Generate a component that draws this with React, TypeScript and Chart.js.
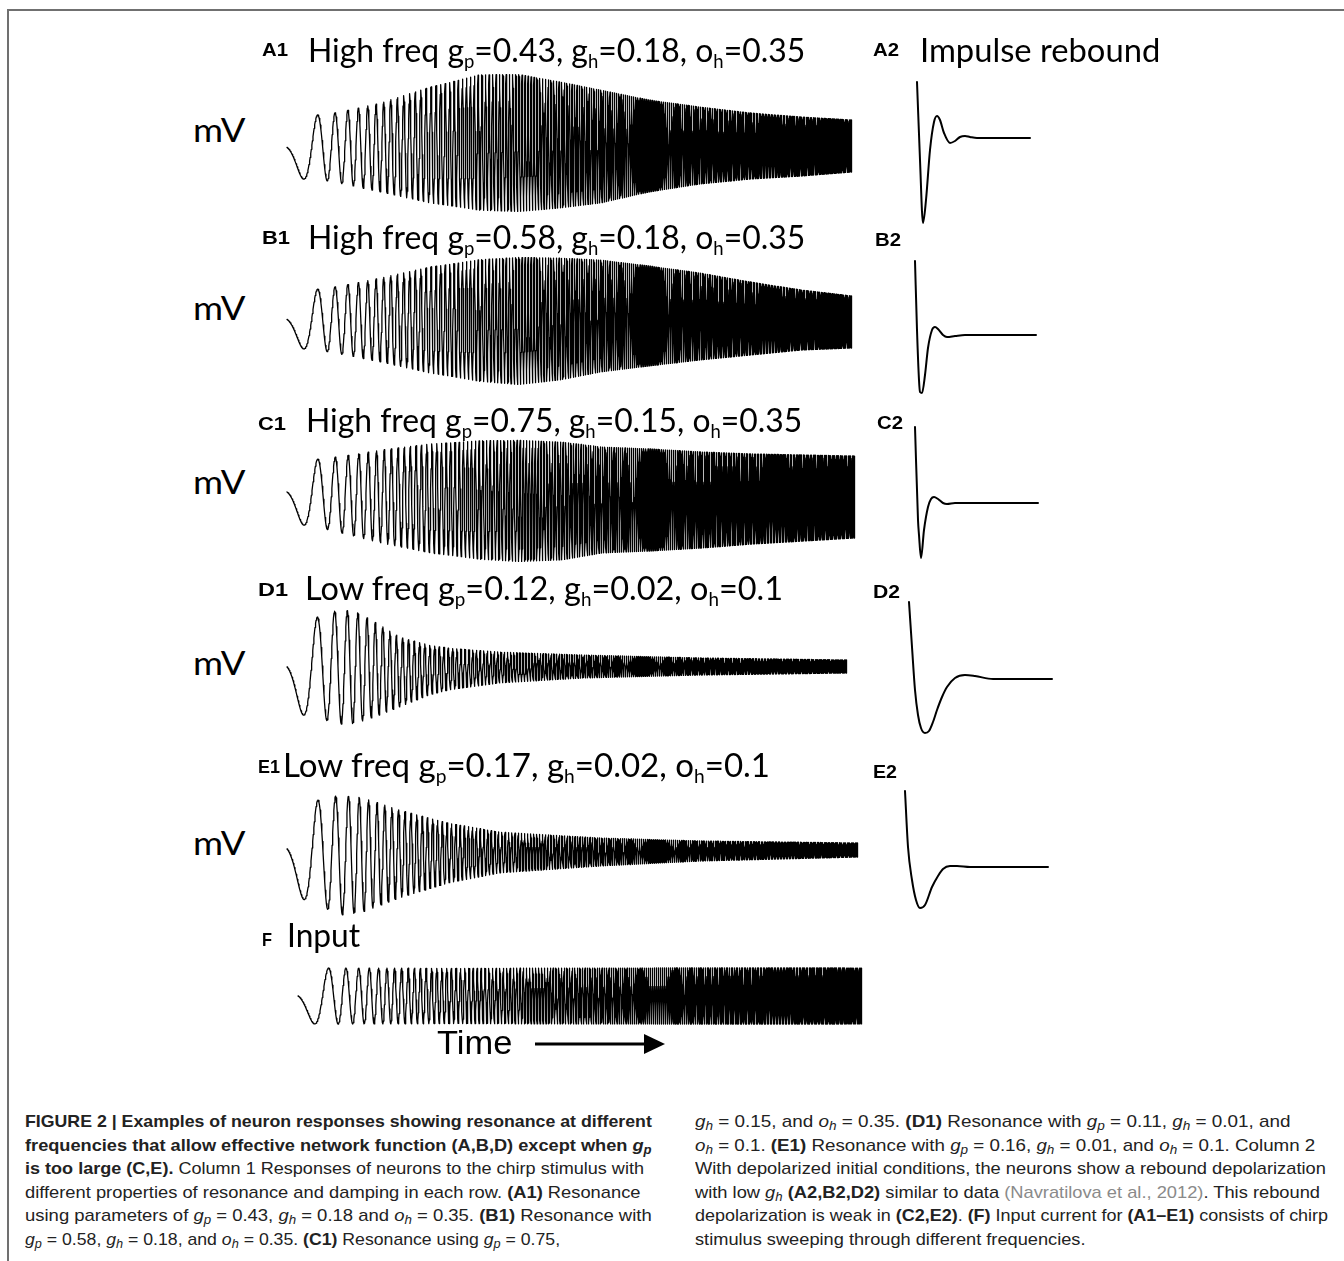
import React, { useEffect, useLayoutEffect, useRef } from 'react';
import { Chart, registerables } from 'chart.js';
Chart.register(...registerables);

// ---------- chirp stimulus (F) ----------
const CHIRP_DURATION_S = 20;
const CHIRP_F0_HZ = 0.1;
const CHIRP_F1_HZ = 22;

// ---------- column 1 envelopes (mV, relative to resting level) ----------
const ENV_T_HIGH = [0, 1.5, 3.3, 5.1, 6.8, 8.2, 9.7, 11.1, 12.8, 14.6, 16.4, 18.2, 20];
const A1_UPPER = [29, 32, 43, 60, 72, 72, 64, 56, 46, 39, 33, 29, 26];
const A1_LOWER = [-32, -35, -46, -58, -65, -66, -62, -57, -46, -38, -33, -30, -26];
const B1_UPPER = [28, 32, 42, 54, 61, 63, 62, 60, 54, 47, 38, 30, 24];
const B1_LOWER = [-27, -32, -42, -54, -62, -65, -60, -52, -46, -40, -35, -30, -28];
const C1_UPPER = [35, 39, 47, 54, 57, 57, 55, 50, 48, 45, 43, 42, 41];
const C1_LOWER = [-25, -33, -46, -57, -63, -65, -63, -56, -54, -51, -47, -44, -41];
const D1_T = [0, 1.11, 1.71, 2.14, 2.5, 3.32, 4.04, 5.11, 5.82, 7.61, 10.57, 14.75, 20];
const D1_UPPER = [45, 50, 56, 57, 55, 42, 30, 22, 19, 15, 12, 9, 7];
const D1_LOWER = [-45, -51, -56, -58, -56, -48, -40, -28, -23, -16, -11, -8, -6];
const E1_T = [0, 1.09, 1.86, 2.56, 3.96, 5.71, 7.46, 10.96, 14.47, 20];
const E1_UPPER = [45, 50, 55, 53, 40, 27, 18, 12, 9, 7];
const E1_LOWER = [-43, -55, -65, -63, -48, -33, -23, -16, -11, -7];
const F_T = [0, 20];
const F_UPPER = [28, 28];
const F_LOWER = [-28, -28];

// ---------- column 2 impulse responses (ms, mV) ----------
const A2_T = [0, 3, 6, 9, 13, 17, 20, 23, 27, 33, 38, 43, 48, 53, 60, 113];
const A2_V = [56, -22, -85, -62, -12, 16, 22, 18, 5, -5, -3, 1, 2, 1, 0, 0];
const B2_T = [0, 2, 4, 5, 7, 10, 13, 17, 20, 23, 28, 32, 40, 50, 121];
const B2_V = [74, 5, -45, -57, -58, -40, -13, 5, 8, 6, 0, -2, -1, 0, 0];
const C2_T = [0, 3, 4, 6, 9, 13, 16, 19, 23, 28, 32, 40, 123];
const C2_V = [76, -17, -32, -55, -27, -4, 4, 6, 4, 0, -1, 0, 0];
const D2_T = [0, 3, 6, 9, 12, 16, 20, 24, 28, 33, 38, 46, 56, 66, 84, 143];
const D2_V = [77, 32, -11, -36, -49, -54, -52, -43, -31, -18, -8, 1, 4, 3, 0, 0];
const E2_T = [0, 3, 7, 11, 15, 20, 27, 33, 38, 45, 52, 65, 82, 143];
const E2_V = [76, 20, -13, -33, -41, -38, -20, -9, -2, 1, 1, 0, 0, 0];

function chirpPhase(t: number) {
  return CHIRP_F0_HZ * t + ((CHIRP_F1_HZ - CHIRP_F0_HZ) * t * t) / (2 * CHIRP_DURATION_S);
}
function chirpFreq(t: number) {
  return CHIRP_F0_HZ + ((CHIRP_F1_HZ - CHIRP_F0_HZ) * t) / CHIRP_DURATION_S;
}
function lerp(ts: number[], vs: number[], t: number) {
  if (t <= ts[0]) return vs[0];
  for (let i = 1; i < ts.length; i++) {
    if (t <= ts[i]) {
      const f = (t - ts[i - 1]) / (ts[i] - ts[i - 1]);
      return vs[i - 1] + f * (vs[i] - vs[i - 1]);
    }
  }
  return vs[vs.length - 1];
}
function chirpTrace(ts: number[], up: number[], lo: number[]) {
  const pts: { x: number; y: number }[] = [];
  let t = 0;
  while (t <= CHIRP_DURATION_S) {
    const u = lerp(ts, up, t);
    const l = lerp(ts, lo, t);
    const mid = (u + l) / 2;
    const half = (u - l) / 2;
    pts.push({ x: t, y: mid - half * Math.sin(2 * Math.PI * chirpPhase(t)) });
    t += Math.min(0.02, 1 / (chirpFreq(t) * 16));
  }
  return pts;
}

type LCProps = {
  left: number; top: number; width: number; height: number;
  xMin: number; xMax: number; yMin: number; yMax: number;
  points: { x: number; y: number }[]; lineWidth: number; smooth?: boolean;
};

function LineChart(p: LCProps) {
  const ref = useRef<HTMLCanvasElement>(null);
  useEffect(() => {
    const chart = new Chart(ref.current!, {
      type: 'line',
      data: {
        datasets: [
          {
            data: p.points as any,
            borderColor: '#000',
            borderWidth: p.lineWidth,
            pointRadius: 0,
            fill: false,
            tension: 0,
            cubicInterpolationMode: p.smooth ? 'monotone' : 'default',
            clip: false as any,
            borderJoinStyle: 'round',
            borderCapStyle: 'round',
          },
        ],
      },
      options: {
        animation: false,
        responsive: false,
        devicePixelRatio: 1,
        parsing: false,
        normalized: true,
        events: [],
        layout: { padding: 0 },
        plugins: { legend: { display: false }, tooltip: { enabled: false } },
        scales: {
          x: { type: 'linear', display: false, min: p.xMin, max: p.xMax },
          y: { type: 'linear', display: false, min: p.yMin, max: p.yMax },
        },
      },
    });
    return () => chart.destroy();
  }, []);
  return (
    <canvas
      ref={ref}
      width={p.width}
      height={p.height}
      style={{ position: 'absolute', left: p.left, top: p.top, width: p.width, height: p.height }}
    />
  );
}

function ChirpPanel({ x0, x1, cy, ts, up, lo }: any) {
  const pad = 6;
  const span = x1 - x0;
  const dx = (pad / span) * CHIRP_DURATION_S;
  return (
    <LineChart
      left={x0 - pad}
      top={cy - 100}
      width={span + 2 * pad}
      height={200}
      xMin={-dx}
      xMax={CHIRP_DURATION_S + dx}
      yMin={-100}
      yMax={100}
      points={chirpTrace(ts, up, lo)}
      lineWidth={1.3}
    />
  );
}

function ImpulsePanel({ ox, by, ts, vs }: any) {
  return (
    <LineChart
      left={ox - 10}
      top={by - 100}
      width={160}
      height={200}
      xMin={-10}
      xMax={150}
      yMin={-100}
      yMax={100}
      points={ts.map((t: number, i: number) => ({ x: t, y: vs[i] }))}
      lineWidth={2}
      smooth
    />
  );
}

function Fit({ x, cy, w, size, family, weight, color, children, italic }: any) {
  const ref = useRef<HTMLDivElement>(null);
  useLayoutEffect(() => {
    const el = ref.current;
    if (!el) return;
    const fit = () => {
      el.style.transform = 'none';
      const nat = el.scrollWidth;
      if (nat > 0) el.style.transform = `scaleX(${w / nat})`;
    };
    fit();
    const f: any = (document as any).fonts;
    if (f && f.ready) f.ready.then(fit);
  }, [w]);
  return (
    <div
      ref={ref}
      style={{
        position: 'absolute',
        left: x,
        top: cy - size * 0.52,
        whiteSpace: 'nowrap',
        transformOrigin: '0 0',
        fontSize: size,
        lineHeight: `${size}px`,
        fontFamily: family,
        fontWeight: weight || 'normal',
        fontStyle: italic ? 'italic' : 'normal',
        color: color || '#000',
        zIndex: 2,
      }}
    >
      {children}
    </div>
  );
}

const TITLE_FONT = 'Lato, "Open Sans", sans-serif';
const LABEL_FONT = '"Liberation Sans", Arial, sans-serif';
const CAP_FONT = '"Liberation Sans Narrow", "Liberation Sans", Arial, sans-serif';

const Sb = ({ c }: any) => (
  <sub style={{ fontSize: '0.58em', verticalAlign: '-0.3em', lineHeight: 0 }}>{c}</sub>
);
const M = ({ v, s }: any) => (
  <span>
    <i>{v}</i>
    <sub style={{ fontSize: '0.72em', verticalAlign: '-0.25em', lineHeight: 0 }}>
      <i>{s}</i>
    </sub>
  </span>
);

function Title({ x, cy, w, children }: any) {
  return (
    <Fit x={x} cy={cy} w={w} size={33} family={TITLE_FONT}>
      {children}
    </Fit>
  );
}
function Lab({ x, cy, w, t }: any) {
  return (
    <Fit x={x} cy={cy} w={w} size={18} family={LABEL_FONT} weight="bold">
      {t}
    </Fit>
  );
}

const CAP_LEFT = 25;
const CAP_RIGHT = 695;
const CAP_Y0 = 1122;
const CAP_DY = 23.5;

function CapLine({ col, i, w, children }: any) {
  return (
    <Fit x={col === 0 ? CAP_LEFT : CAP_RIGHT} cy={CAP_Y0 + i * CAP_DY} w={w} size={17} family={CAP_FONT} color="#222">
      {children}
    </Fit>
  );
}

export default function App() {
  const mvY = [130, 308, 482, 663, 843];
  return (
    <div
      style={{
        position: 'absolute',
        left: 0,
        top: 0,
        width: 1344,
        height: 1261,
        background: '#fff',
        overflow: 'hidden',
      }}
    >
      <div
        style={{
          position: 'absolute',
          left: 7,
          top: 9,
          width: 1400,
          height: 1400,
          borderTop: '2px solid #707070',
          borderLeft: '2px solid #707070',
        }}
      />

      {/* column 1 titles */}
      <Lab x={262} cy={50} w={26} t="A1" />
      <Title x={308} cy={50} w={497}>
        High freq g<Sb c="p" />=0.43, g<Sb c="h" />=0.18, o<Sb c="h" />=0.35
      </Title>
      <Lab x={262} cy={238} w={28} t="B1" />
      <Title x={308} cy={237} w={497}>
        High freq g<Sb c="p" />=0.58, g<Sb c="h" />=0.18, o<Sb c="h" />=0.35
      </Title>
      <Lab x={258} cy={424} w={28} t="C1" />
      <Title x={306} cy={420} w={496}>
        High freq g<Sb c="p" />=0.75, g<Sb c="h" />=0.15, o<Sb c="h" />=0.35
      </Title>
      <Lab x={258} cy={590} w={30} t="D1" />
      <Title x={305} cy={588} w={478}>
        Low freq g<Sb c="p" />=0.12, g<Sb c="h" />=0.02, o<Sb c="h" />=0.1
      </Title>
      <Lab x={258} cy={767} w={22} t="E1" />
      <Title x={283} cy={765} w={487}>
        Low freq g<Sb c="p" />=0.17, g<Sb c="h" />=0.02, o<Sb c="h" />=0.1
      </Title>
      <Lab x={262} cy={940} w={10} t="F" />
      <Title x={287} cy={935} w={73}>
        Input
      </Title>

      {/* column 2 titles */}
      <Lab x={873} cy={50} w={26} t="A2" />
      <Title x={920} cy={50} w={240}>
        Impulse rebound
      </Title>
      <Lab x={875} cy={240} w={26} t="B2" />
      <Lab x={877} cy={423} w={26} t="C2" />
      <Lab x={873} cy={592} w={27} t="D2" />
      <Lab x={873} cy={772} w={24} t="E2" />

      {mvY.map((y, i) => (
        <Fit key={i} x={193} cy={y} w={52} size={33} family={TITLE_FONT}>
          mV
        </Fit>
      ))}

      {/* column 1 traces */}
      <ChirpPanel x0={287} x1={852} cy={146} ts={ENV_T_HIGH} up={A1_UPPER} lo={A1_LOWER} />
      <ChirpPanel x0={287} x1={852} cy={320} ts={ENV_T_HIGH} up={B1_UPPER} lo={B1_LOWER} />
      <ChirpPanel x0={287} x1={855} cy={497} ts={ENV_T_HIGH} up={C1_UPPER} lo={C1_LOWER} />
      <ChirpPanel x0={287} x1={847} cy={667} ts={D1_T} up={D1_UPPER} lo={D1_LOWER} />
      <ChirpPanel x0={287} x1={858} cy={850} ts={E1_T} up={E1_UPPER} lo={E1_LOWER} />
      <ChirpPanel x0={298} x1={862} cy={996} ts={F_T} up={F_UPPER} lo={F_LOWER} />

      {/* column 2 traces */}
      <ImpulsePanel ox={917} by={138} ts={A2_T} vs={A2_V} />
      <ImpulsePanel ox={915} by={335} ts={B2_T} vs={B2_V} />
      <ImpulsePanel ox={915} by={503} ts={C2_T} vs={C2_V} />
      <ImpulsePanel ox={909} by={679} ts={D2_T} vs={D2_V} />
      <ImpulsePanel ox={905} by={867} ts={E2_T} vs={E2_V} />

      {/* time arrow */}
      <Fit x={437} cy={1043} w={75} size={34} family={LABEL_FONT}>
        Time
      </Fit>
      <svg style={{ position: 'absolute', left: 530, top: 1032, zIndex: 2 }} width={140} height={24}>
        <line x1={5} y1={12} x2={118} y2={12} stroke="#000" strokeWidth={3} />
        <polygon points="114,2 135,12 114,22" fill="#000" />
      </svg>

      {/* caption left column */}
      <CapLine col={0} i={0} w={627}>
        <b>FIGURE 2 | Examples of neuron responses showing resonance at different</b>
      </CapLine>
      <CapLine col={0} i={1} w={627}>
        <b>
          frequencies that allow effective network function (A,B,D) except when <M v="g" s="p" />
        </b>
      </CapLine>
      <CapLine col={0} i={2} w={619}>
        <b>is too large (C,E).</b> Column 1 Responses of neurons to the chirp stimulus with
      </CapLine>
      <CapLine col={0} i={3} w={615}>
        different properties of resonance and damping in each row. <b>(A1)</b> Resonance
      </CapLine>
      <CapLine col={0} i={4} w={627}>
        using parameters of <M v="g" s="p" /> = 0.43, <M v="g" s="h" /> = 0.18 and <M v="o" s="h" /> = 0.35.{' '}
        <b>(B1)</b> Resonance with
      </CapLine>
      <CapLine col={0} i={5} w={535}>
        <M v="g" s="p" /> = 0.58, <M v="g" s="h" /> = 0.18, and <M v="o" s="h" /> = 0.35. <b>(C1)</b> Resonance
        using <M v="g" s="p" /> = 0.75,
      </CapLine>

      {/* caption right column */}
      <CapLine col={1} i={0} w={595}>
        <M v="g" s="h" /> = 0.15, and <M v="o" s="h" /> = 0.35. <b>(D1)</b> Resonance with <M v="g" s="p" /> = 0.11,{' '}
        <M v="g" s="h" /> = 0.01, and
      </CapLine>
      <CapLine col={1} i={1} w={620}>
        <M v="o" s="h" /> = 0.1. <b>(E1)</b> Resonance with <M v="g" s="p" /> = 0.16, <M v="g" s="h" /> = 0.01, and{' '}
        <M v="o" s="h" /> = 0.1. Column 2
      </CapLine>
      <CapLine col={1} i={2} w={631}>
        With depolarized initial conditions, the neurons show a rebound depolarization
      </CapLine>
      <CapLine col={1} i={3} w={625}>
        with low <M v="g" s="h" /> <b>(A2,B2,D2)</b> similar to data{' '}
        <span style={{ color: '#8a8a8a' }}>(Navratilova et al., 2012)</span>. This rebound
      </CapLine>
      <CapLine col={1} i={4} w={633}>
        depolarization is weak in <b>(C2,E2)</b>. <b>(F)</b> Input current for <b>(A1–E1)</b> consists of chirp
      </CapLine>
      <CapLine col={1} i={5} w={390}>
        stimulus sweeping through different frequencies.
      </CapLine>
    </div>
  );
}
